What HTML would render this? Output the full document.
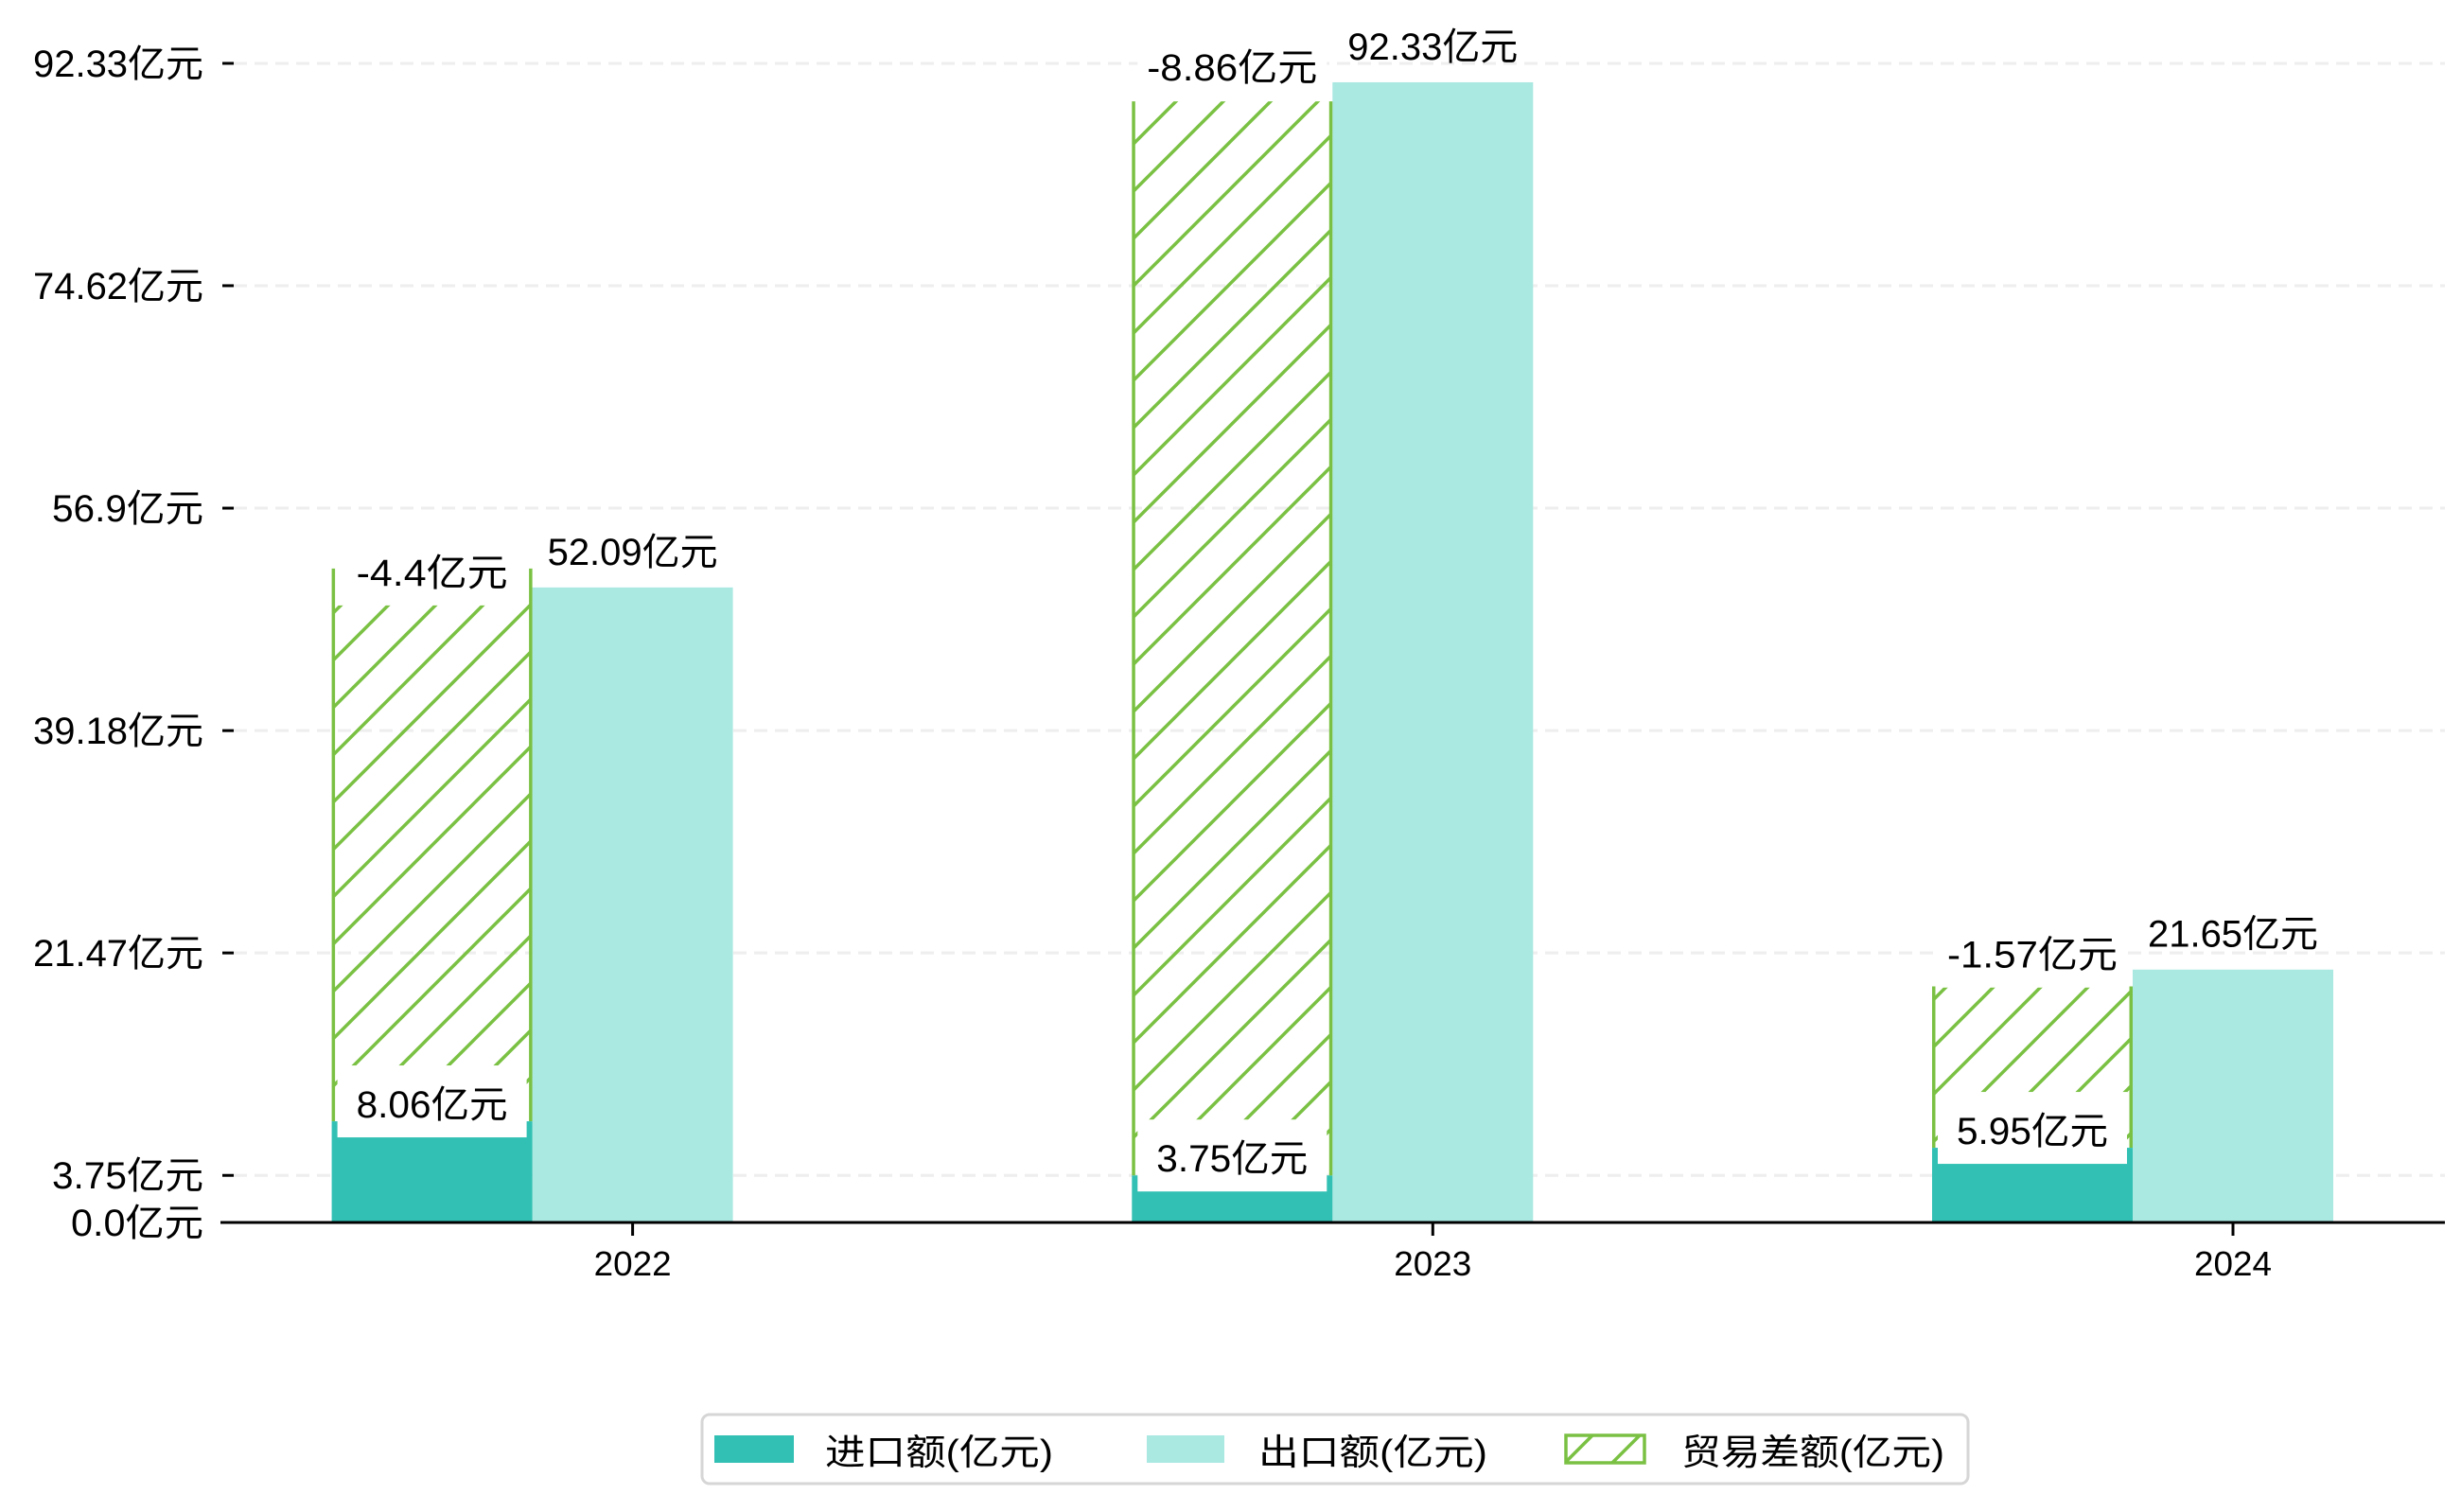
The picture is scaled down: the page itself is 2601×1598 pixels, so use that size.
<!DOCTYPE html>
<html><head><meta charset="utf-8"><style>
html,body{margin:0;padding:0;background:#fff;}
svg{display:block;}
text{font-family:"Liberation Sans","Noto Sans CJK SC",sans-serif;fill:#000;}
</style></head><body>
<svg id="chart" width="2601" height="1598" viewBox="0 0 2601 1598" xmlns="http://www.w3.org/2000/svg">
<defs>
<pattern id="hatch" patternUnits="userSpaceOnUse" width="50" height="50">
<line x1="-5" y1="55" x2="55" y2="-5" stroke="#7ac143" stroke-width="3.5"/>
<line x1="-55" y1="55" x2="5" y2="-5" stroke="#7ac143" stroke-width="3.5"/>
<line x1="45" y1="55" x2="105" y2="-5" stroke="#7ac143" stroke-width="3.5"/>
</pattern>
</defs>
<g id="grid"></g>
<g id="bars"></g>
<g id="labels"></g>
<g id="axes"></g>
<g>
<rect x="742" y="1495" width="1338" height="73" rx="8" fill="#fff" stroke="#d6d6d6" stroke-width="3"/>
<rect x="755" y="1517" width="84" height="29" fill="#32c0b4"/>
<text x="872" y="1548" font-size="38" textLength="241" lengthAdjust="spacingAndGlyphs">进口额(亿元)</text>
<rect x="1212" y="1517" width="82" height="29" fill="#aae8e2"/>
<text x="1330" y="1548" font-size="38" textLength="242" lengthAdjust="spacingAndGlyphs">出口额(亿元)</text>
<rect x="1655" y="1517" width="83" height="29" fill="url(#hatch)" stroke="#7ac143" stroke-width="3.5"/>
<text x="1777" y="1548" font-size="38" textLength="278" lengthAdjust="spacingAndGlyphs">贸易差额(亿元)</text>
</g>
</svg>
<script>
const categories = ["2022", "2023", "2024"];
const importVals = [8.06, 3.75, 5.95];
const exportVals = [52.09, 92.33, 21.65];
const balanceVals = [-4.4, -8.86, -1.57];
const hatchTopVals = [52.09, 89.3, 18.8];
const yTicks = [0, 3.75, 21.47, 39.18, 56.9, 74.62, 92.33];
const yTickLabels = ["0.0亿元", "3.75亿元", "21.47亿元", "39.18亿元", "56.9亿元", "74.62亿元", "92.33亿元"];

const NS = "http://www.w3.org/2000/svg";
const Y0 = 1292, K = 13.268, EXP_OFF = 20;
const yAxis = v => Y0 - v * K;
const xCenter = i => 668.6 + i * 845.7;
const BW = 212;
const AX_L = 233, AX_R = 2584;

function mk(tag, attrs, parent) {
  const e = document.createElementNS(NS, tag);
  for (const k in attrs) e.setAttribute(k, attrs[k]);
  parent.appendChild(e);
  return e;
}
function tlen(s) {
  let w = 0;
  for (const c of s) w += (c.charCodeAt(0) > 255) ? 40 : 20;
  return w;
}
const grid = document.getElementById('grid');
const bars = document.getElementById('bars');
const labels = document.getElementById('labels');
const axes = document.getElementById('axes');

yTicks.forEach((v, i) => {
  const y = yAxis(v);
  if (v > 0) {
    const g = mk('line', {x1: 247, x2: AX_R, y1: y, y2: y, stroke: '#eeeeee', 'stroke-width': 3, 'stroke-dasharray': '14 8'}, grid);
    
    
  }
  const t = mk('line', {x1: 235, x2: 247, y1: y, y2: y, stroke: '#000', 'stroke-width': 3}, axes);
  
  
  const s = yTickLabels[i];
  const tx = mk('text', {x: 215 - tlen(s), y: y + 14, 'font-size': 40, textLength: tlen(s), lengthAdjust: 'spacingAndGlyphs'}, axes);
  tx.textContent = s;
  
  
});

const base = mk('line', {x1: AX_L, x2: AX_R, y1: Y0, y2: Y0, stroke: '#000', 'stroke-width': 3}, axes);



function labelBox(text, cx, baseline, parent) {
  const w = tlen(text);
  const r = mk('rect', {x: cx - BW / 2 + 6, y: baseline - 33 - 22, width: BW - 12, height: 33 + 43, fill: '#fff'}, parent);
  
  
  const t = mk('text', {x: cx - w / 2, y: baseline, 'font-size': 40, textLength: w, lengthAdjust: 'spacingAndGlyphs'}, parent);
  t.textContent = text;
  
  
}

categories.forEach((c, i) => {
  const cx = xCenter(i);
  const ix = cx - BW / 2 - BW;
  const icx = cx - BW;
  const ey = yAxis(exportVals[i]) + EXP_OFF;
  const eb = mk('rect', {x: cx - BW / 2, y: ey, width: BW, height: Y0 - ey, fill: '#aae8e2'}, bars);
  
  
  const iy = yAxis(importVals[i]);
  const ib = mk('rect', {x: ix, y: iy, width: BW, height: Y0 - iy, fill: '#32c0b4'}, bars);
  
  
  const hy = yAxis(hatchTopVals[i]);
  const hb = mk('rect', {x: ix + 1.75, y: hy, width: BW - 3.5, height: iy - hy, fill: 'url(#hatch)'}, bars);
  
  
  const el = mk('line', {x1: ix + 1.75, x2: ix + 1.75, y1: hy, y2: iy, stroke: '#7ac143', 'stroke-width': 3.5}, bars);
  
  
  const er = mk('line', {x1: ix + BW - 1.75, x2: ix + BW - 1.75, y1: hy, y2: iy, stroke: '#7ac143', 'stroke-width': 3.5}, bars);
  
  
  labelBox(balanceVals[i] + '亿元', icx, yAxis(exportVals[i]) + 18, labels);
  labelBox(importVals[i] + '亿元', icx, yAxis(importVals[i]) - 4, labels);
  const es = exportVals[i] + '亿元';
  const ew = tlen(es);
  const et = mk('text', {x: cx - ew / 2, y: yAxis(exportVals[i]) - 4, 'font-size': 40, textLength: ew, lengthAdjust: 'spacingAndGlyphs'}, labels);
  et.textContent = es;
  
  
  const xt = mk('line', {x1: cx, x2: cx, y1: Y0, y2: Y0 + 14, stroke: '#000', 'stroke-width': 3}, axes);
  
  
  const xl = mk('text', {x: cx - 41, y: 1348, 'font-size': 36, textLength: 82, lengthAdjust: 'spacingAndGlyphs'}, axes);
  xl.textContent = c;
  
  
});
</script>
</body></html>
